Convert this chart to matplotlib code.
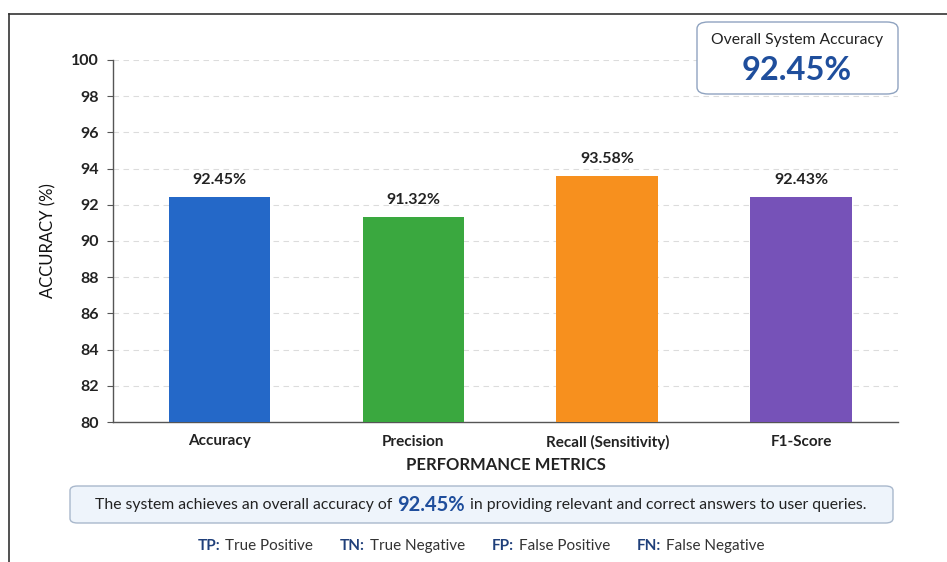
import matplotlib
matplotlib.use("Agg")
from matplotlib import pyplot as plt
from matplotlib.patches import FancyBboxPatch
from matplotlib.lines import Line2D

# chart data
metrics = ["Accuracy", "Precision", "Recall (Sensitivity)", "F1-Score"]
scores = [92.45, 91.32, 93.58, 92.43]
bar_colors = ["#2468c8", "#3aa83f", "#f7901e", "#7652b8"]
y_ticks = [80, 82, 84, 86, 88, 90, 92, 94, 96, 98, 100]
overall_accuracy = 92.45
legend_items = [("TP:", "True Positive"), ("TN:", "True Negative"),
                ("FP:", "False Positive"), ("FN:", "False Negative")]

W, H = 947, 562
plt.rcParams['font.family'] = ['Lato', 'DejaVu Sans']

fig = plt.figure(figsize=(W / 100, H / 100), dpi=100)
fig.patch.set_facecolor("white")


def fx(px):
    return px / W


def fy(py):
    return 1 - py / H


# outer frame (only top and left edges show)
fig.add_artist(Line2D([fx(9), 1], [fy(14), fy(14)], color="#333333", lw=1.2))
fig.add_artist(Line2D([fx(9), fx(9)], [fy(14), 0], color="#333333", lw=1.2))

ax = fig.add_axes([fx(113), fy(422), fx(898 - 113), (422 - 60) / H])
x = range(len(metrics))
ax.bar(x, scores, width=0.525, color=bar_colors, zorder=3)
for i, v in enumerate(scores):
    ax.text(i, v + 0.55, f"{v:.2f}%", ha="center", va="bottom",
            fontsize=11.5, fontweight="bold", color="#222222")

ax.set_ylim(80, 100)
ax.set_xlim(-0.55, 3.5)
ax.set_yticks(y_ticks)
ax.set_xticks(list(x))
ax.set_xticklabels(metrics, fontsize=11, fontweight="bold", color="#222222")
ax.tick_params(axis="x", length=0, pad=9)
ax.tick_params(axis="y", length=4, labelsize=11.5, colors="#555555",
               labelcolor="#222222", pad=6)
for lbl in ax.get_yticklabels():
    lbl.set_fontweight("bold")
ax.grid(axis="y", linestyle=(0, (5, 4)), color="#dcdcdc", lw=0.8, zorder=0)
for s in ["top", "right"]:
    ax.spines[s].set_visible(False)
for s in ["left", "bottom"]:
    ax.spines[s].set_color("#555555")
    ax.spines[s].set_linewidth(1.0)

ax.set_ylabel("ACCURACY (%)", fontsize=12, color="#111111", labelpad=11)
ax.set_xlabel("PERFORMANCE METRICS", fontsize=12, fontweight="bold",
              color="#222222", labelpad=5)

# overall accuracy box
box = FancyBboxPatch((fx(697), fy(94)), fx(898 - 697), (94 - 22) / H,
                     boxstyle="round,pad=0,rounding_size=0.012",
                     transform=fig.transFigure, facecolor="white",
                     edgecolor="#8fa3c0", lw=1.0, zorder=5)
fig.add_artist(box)
fig.text(fx(797), fy(40), "Overall System Accuracy", ha="center", va="center",
         fontsize=11.3, color="#222222", zorder=6)
fig.text(fx(797), fy(70), f"{overall_accuracy:.2f}%", ha="center", va="center",
         fontsize=23.5, fontweight="bold", color="#1f4e9c", zorder=6)

# summary box
sbox = FancyBboxPatch((fx(70), fy(523)), fx(893 - 70), (523 - 486) / H,
                      boxstyle="round,pad=0,rounding_size=0.008",
                      transform=fig.transFigure, facecolor="#eef4fb",
                      edgecolor="#a9b8cc", lw=1.0)
fig.add_artist(sbox)

renderer = fig.canvas.get_renderer()


def draw_runs(runs, cx, cy):
    # place text pieces side by side, centred on cx
    texts = []
    for s, size, weight, color, gap in runs:
        t = fig.text(0, fy(cy), s, fontsize=size, fontweight=weight,
                     color=color, va="center", ha="left")
        texts.append((t, gap))
    widths = [t.get_window_extent(renderer).width for t, _ in texts]
    total = sum(widths) + sum(g for _, g in texts)
    pos = cx - total / 2
    for (t, gap), w in zip(texts, widths):
        t.set_x(fx(pos))
        pos += w + gap


draw_runs([("The system achieves an overall accuracy of", 11.3, "normal", "#222222", 5),
           (f"{overall_accuracy:.2f}%", 14.5, "bold", "#1f4e9c", 5),
           ("in providing relevant and correct answers to user queries.", 11.3, "normal", "#222222", 0)],
          481, 505)

runs = []
for i, (k, v) in enumerate(legend_items):
    runs.append((k, 11, "bold", "#1f3f7a", 5))
    runs.append((v, 11, "normal", "#333333", 27 if i < len(legend_items) - 1 else 0))
draw_runs(runs, 481, 546)

fig.savefig("out.png", dpi=100, facecolor="white")
